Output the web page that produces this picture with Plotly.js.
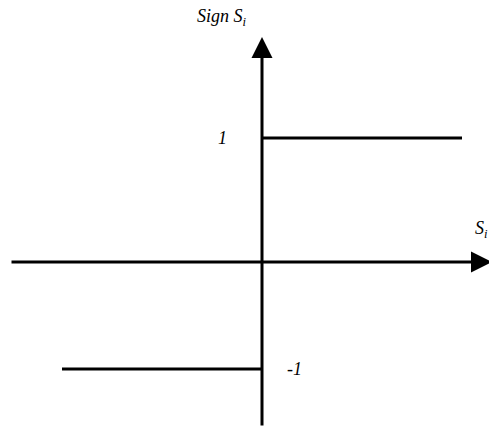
<!DOCTYPE html>
<html>
<head>
<meta charset="utf-8">
<script src="https://cdn.plot.ly/plotly-3.0.1.min.js"></script>
<style>html,body{margin:0;padding:0;background:#fff;}#plot{width:489px;height:428px;}</style>
</head>
<body>
<div id="plot"></div>
<script>
// Sign function: S_i < 0 -> -1, S_i > 0 -> 1
const upperX = [0, 1];
const upperY = [1, 1];
const lowerX = [-1, 0];
const lowerY = [-1, -1];
const levelLabels = ['1', '-1'];
const xAxisLabel = 'S<sub>i</sub>';
const yAxisLabel = 'Sign S<sub>i</sub>';

const lineStyle = {color: '#000', width: 3};
const traces = [
  {x: upperX, y: upperY, mode: 'lines', line: lineStyle, xaxis: 'x', yaxis: 'y', hoverinfo: 'skip', cliponaxis: false},
  {x: lowerX, y: lowerY, mode: 'lines', line: lineStyle, xaxis: 'x', yaxis: 'y2', hoverinfo: 'skip', cliponaxis: false}
];

const txtFont = {family: 'Liberation Serif, DejaVu Serif, serif', size: 18, color: '#000', style: 'italic'};
const hidden = {visible: false, showgrid: false, zeroline: false, fixedrange: true};

const layout = {
  width: 489, height: 428,
  margin: {l: 0, r: 0, t: 0, b: 0},
  paper_bgcolor: '#fff', plot_bgcolor: '#fff',
  showlegend: false,
  xaxis: Object.assign({range: [-1.31, 1.135]}, hidden),
  yaxis: Object.assign({range: [-1.339, 2.113]}, hidden),
  yaxis2: Object.assign({range: [-1.551, 2.449], overlaying: 'y'}, hidden),
  annotations: [
    // horizontal axis with arrow
    {x: 1.15, y: 0, xref: 'x', yref: 'y', ax: -1.26, ay: 0, axref: 'x', ayref: 'y',
     showarrow: true, arrowhead: 2, arrowsize: 1.4, arrowwidth: 3, arrowcolor: '#000', text: ''},
    // vertical axis with arrow
    {x: 0, y: 1.815, xref: 'x', yref: 'y', ax: 0, ay: -1.33, axref: 'x', ayref: 'y',
     showarrow: true, arrowhead: 2, arrowsize: 1.4, arrowwidth: 3, arrowcolor: '#000', text: ''},
    {x: -0.2, y: upperY[0], xref: 'x', yref: 'y', text: levelLabels[0], showarrow: false, font: txtFont},
    {x: 0.16, y: lowerY[0], xref: 'x', yref: 'y2', text: levelLabels[1], showarrow: false, font: txtFont},
    {x: -0.2, y: 1.97, xref: 'x', yref: 'y', text: yAxisLabel, showarrow: false, font: txtFont},
    {x: 1.055, y: 0.26, xref: 'x', yref: 'y', text: xAxisLabel, showarrow: false, xanchor: 'left', font: txtFont}
  ]
};

Plotly.newPlot('plot', traces, layout, {staticPlot: true, displayModeBar: false});
</script>
</body>
</html>
